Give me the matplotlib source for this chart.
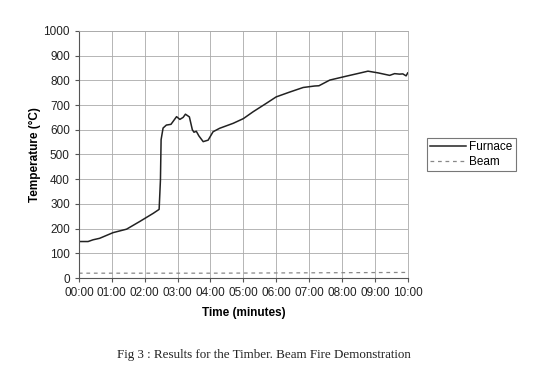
import matplotlib
matplotlib.use("Agg")
import matplotlib.pyplot as plt

# Data (time in minutes, temperature in °C)
furnace_t = [0.0, 0.01, 0.28, 0.43, 0.63, 1.04, 1.45, 1.85, 2.26, 2.44, 2.48, 2.5, 2.56, 2.66,
             2.8, 2.97, 3.07, 3.17, 3.24, 3.36, 3.45, 3.5, 3.57, 3.65, 3.78, 3.93, 4.08, 4.28,
             4.69, 5.0, 5.3, 5.7, 6.0, 6.4, 6.82, 7.17, 7.3, 7.63, 8.14, 8.5, 8.79, 9.1,
             9.45, 9.6, 9.75, 9.85, 9.95, 10.0]
furnace_v = [20, 148, 148, 155, 161, 184, 198, 229, 262, 278, 397, 560, 607, 619,
             622, 653, 642, 650, 663, 652, 600, 590, 594, 575, 552, 558, 592, 606,
             626, 645, 673, 707, 733, 752, 771, 777, 778, 801, 817, 828, 837, 830,
             820, 827, 825, 826, 818, 830]
beam_t = [0.0, 2.0, 4.0, 6.0, 8.0, 10.0]
beam_v = [20, 20, 20, 21, 22, 23]

xtick_pos = list(range(0, 11))
xtick_labels = ["00:00", "01:00", "02:00", "03:00", "04:00", "05:00",
                "06:00", "07:00", "08:00", "09:00", "10:00"]
yticks = list(range(0, 1001, 100))

plt.rcParams['font.family'] = ['Liberation Sans', 'DejaVu Sans']

fig = plt.figure(figsize=(5.33, 3.81), dpi=100)
ax = fig.add_axes([0.148, 0.270, 0.617, 0.649])

ax.plot(furnace_t, furnace_v, color="#222222", lw=1.1, label="Furnace")
ax.plot(beam_t, beam_v, color="#888888", lw=0.9, ls=(0, (3, 3)), label="Beam")

ax.set_xlim(0, 10)
ax.set_ylim(0, 1000)
ax.set_xticks(xtick_pos)
ax.set_xticklabels(xtick_labels)
ax.set_yticks(yticks)
ax.tick_params(labelsize=8.5, length=3, color="#555555", colors="#222222")
ax.grid(True, color="#aaaaaa", lw=0.6)
for s in ["left", "bottom"]:
    ax.spines[s].set_color("#555555")
for s in ["top", "right"]:
    ax.spines[s].set_color("#aaaaaa")
    ax.spines[s].set_linewidth(0.6)

ax.set_xlabel("Time (minutes)", fontsize=8.5, fontweight="bold", labelpad=6)
ax.set_ylabel("Temperature (°C)", fontsize=8.5, fontweight="bold", labelpad=2)

leg = ax.legend(loc="center left", bbox_to_anchor=(1.04, 0.5), fontsize=8.5,
                frameon=True, fancybox=False, edgecolor="#555555",
                handlelength=3.0, handletextpad=0.3, borderpad=0.3, labelspacing=0.2)
leg.get_frame().set_linewidth(0.8)

fig.text(0.495, 0.068, "Fig 3 : Results for the Timber. Beam Fire Demonstration",
         ha="center", va="center", fontsize=9.4, family="Liberation Serif", color="#222222")

fig.savefig("out.png", dpi=100)
